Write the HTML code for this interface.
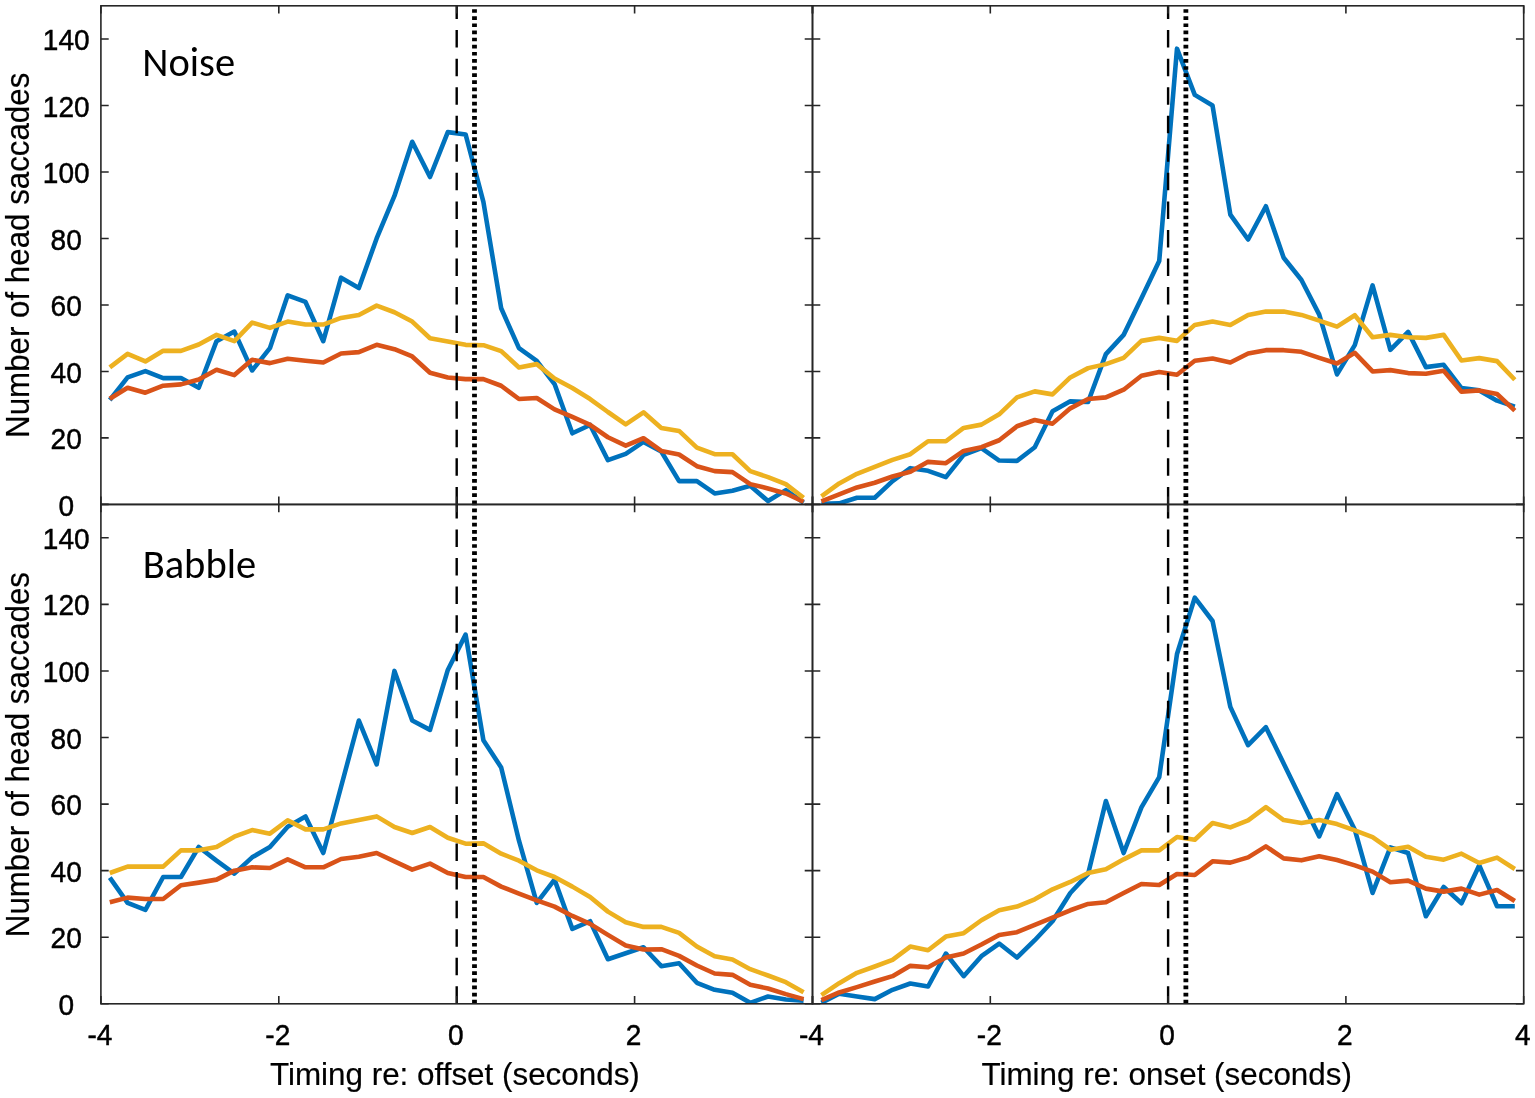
<!DOCTYPE html>
<html><head><meta charset="utf-8"><title>Head saccades timing</title>
<style>
html,body{margin:0;padding:0;background:#fff;}
body{width:1535px;height:1098px;overflow:hidden;}
svg{display:block;}
.t{font-family:"Liberation Sans",Arial,Helvetica,sans-serif;font-size:28.5px;fill:#000;stroke:#000;stroke-width:0.45px;}
.l{font-family:"Liberation Sans",Arial,Helvetica,sans-serif;font-size:31.4px;fill:#000;stroke:#000;stroke-width:0.18px;}
.ti{font-family:Carlito,Calibri,"Liberation Sans",sans-serif;font-size:40.5px;fill:#000;}
</style></head>
<body>
<svg width="1535" height="1098" viewBox="0 0 1535 1098">
<defs><clipPath id="c00"><rect x="100.9" y="5.8" width="711.60" height="498.60"/></clipPath><clipPath id="c01"><rect x="812.5" y="5.8" width="711.20" height="498.60"/></clipPath><clipPath id="c10"><rect x="100.9" y="504.5" width="711.60" height="499.30"/></clipPath><clipPath id="c11"><rect x="812.5" y="504.5" width="711.20" height="499.30"/></clipPath></defs>
<rect width="1535" height="1098" fill="#fff"/>
<g clip-path="url(#c00)">
<polyline points="109.80,400.03 127.59,377.42 145.38,371.11 163.17,378.09 180.96,378.09 198.75,387.73 216.54,341.19 234.33,331.55 252.12,370.44 269.91,348.17 287.70,295.32 305.49,301.97 323.28,341.19 341.07,277.70 358.86,288.01 376.64,238.48 394.44,195.93 412.23,141.75 430.01,176.99 447.81,132.11 465.60,134.44 483.39,201.92 501.18,308.28 518.97,348.17 536.75,360.80 554.54,384.07 572.34,433.27 590.12,424.96 607.92,460.19 625.71,453.88 643.50,441.91 661.29,451.55 679.08,481.13 696.87,481.13 714.65,493.43 732.44,490.77 750.24,485.79 768.02,501.08 785.82,490.11 803.61,502.74" fill="none" stroke="#0072BD" stroke-width="4.6" stroke-linejoin="round" stroke-linecap="butt"/>
<polyline points="109.80,398.70 127.59,387.73 145.38,392.71 163.17,385.73 180.96,384.40 198.75,379.42 216.54,369.78 234.33,375.10 252.12,359.81 269.91,363.13 287.70,358.81 305.49,360.80 323.28,362.47 341.07,353.49 358.86,352.16 376.64,344.85 394.44,349.17 412.23,356.48 430.01,372.77 447.81,377.42 465.60,379.09 483.39,379.09 501.18,385.73 518.97,399.03 536.75,398.03 554.54,409.33 572.34,416.98 590.12,424.96 607.92,437.26 625.71,445.57 643.50,438.25 661.29,450.88 679.08,454.54 696.87,466.17 714.65,471.16 732.44,472.16 750.24,484.12 768.02,488.44 785.82,493.43 803.61,501.74" fill="none" stroke="#D95319" stroke-width="4.6" stroke-linejoin="round" stroke-linecap="butt"/>
<polyline points="109.80,367.45 127.59,353.82 145.38,361.47 163.17,350.83 180.96,350.83 198.75,344.52 216.54,334.88 234.33,341.19 252.12,322.58 269.91,327.90 287.70,321.58 305.49,324.57 323.28,324.57 341.07,317.92 358.86,314.93 376.64,305.62 394.44,312.27 412.23,321.58 430.01,338.20 447.81,341.52 465.60,344.85 483.39,345.18 501.18,351.16 518.97,367.45 536.75,364.13 554.54,378.42 572.34,388.06 590.12,399.03 607.92,411.99 625.71,424.29 643.50,412.33 661.29,427.95 679.08,430.94 696.87,447.56 714.65,454.21 732.44,454.21 750.24,471.16 768.02,477.14 785.82,484.12 803.61,497.75" fill="none" stroke="#EDB120" stroke-width="4.6" stroke-linejoin="round" stroke-linecap="butt"/>
</g>
<g clip-path="url(#c01)">
<polyline points="821.39,503.74 839.17,503.40 856.95,497.75 874.73,497.75 892.51,481.13 910.29,468.17 928.07,470.83 945.85,477.14 963.63,454.87 981.41,448.22 999.19,460.52 1016.97,460.86 1034.75,447.23 1052.53,411.33 1070.31,401.36 1088.09,402.02 1105.87,354.16 1123.65,334.88 1141.43,298.31 1159.21,261.08 1176.99,48.68 1194.77,94.88 1212.55,105.52 1230.33,214.55 1248.11,239.48 1265.89,206.24 1283.67,257.76 1301.45,280.03 1319.23,314.60 1337.01,374.43 1354.79,345.18 1372.57,285.35 1390.35,349.83 1408.13,331.88 1425.91,367.12 1443.69,364.79 1461.47,388.06 1479.25,390.39 1497.03,400.69 1514.81,406.67" fill="none" stroke="#0072BD" stroke-width="4.6" stroke-linejoin="round" stroke-linecap="butt"/>
<polyline points="821.39,501.41 839.17,494.43 856.95,487.45 874.73,482.79 892.51,476.48 910.29,471.82 928.07,461.85 945.85,463.18 963.63,450.88 981.41,447.23 999.19,440.25 1016.97,426.29 1034.75,419.97 1052.53,423.63 1070.31,408.34 1088.09,399.03 1105.87,397.37 1123.65,389.72 1141.43,375.76 1159.21,372.10 1176.99,374.76 1194.77,360.80 1212.55,358.48 1230.33,362.47 1248.11,353.49 1265.89,350.17 1283.67,350.17 1301.45,351.83 1319.23,357.81 1337.01,363.46 1354.79,352.83 1372.57,371.44 1390.35,370.11 1408.13,373.10 1425.91,373.77 1443.69,370.78 1461.47,391.72 1479.25,390.39 1497.03,394.04 1514.81,410.66" fill="none" stroke="#D95319" stroke-width="4.6" stroke-linejoin="round" stroke-linecap="butt"/>
<polyline points="821.39,496.42 839.17,483.46 856.95,473.82 874.73,466.84 892.51,459.86 910.29,454.21 928.07,441.24 945.85,441.24 963.63,427.95 981.41,424.62 999.19,414.32 1016.97,397.37 1034.75,391.38 1052.53,394.38 1070.31,377.42 1088.09,368.12 1105.87,364.13 1123.65,357.81 1141.43,340.86 1159.21,337.87 1176.99,340.86 1194.77,324.90 1212.55,321.58 1230.33,324.90 1248.11,314.93 1265.89,311.61 1283.67,311.61 1301.45,314.93 1319.23,320.58 1337.01,326.57 1354.79,315.26 1372.57,337.20 1390.35,334.88 1408.13,337.20 1425.91,337.87 1443.69,334.88 1461.47,360.47 1479.25,358.14 1497.03,361.14 1514.81,379.75" fill="none" stroke="#EDB120" stroke-width="4.6" stroke-linejoin="round" stroke-linecap="butt"/>
</g>
<g clip-path="url(#c10)">
<polyline points="109.80,877.64 127.59,902.94 145.38,909.93 163.17,876.98 180.96,876.98 198.75,847.02 216.54,860.67 234.33,873.65 252.12,857.34 269.91,847.02 287.70,826.71 305.49,816.40 323.28,853.01 341.07,786.77 358.86,720.53 376.64,764.47 394.44,670.93 412.23,720.53 430.01,729.85 447.81,669.93 465.60,634.65 483.39,740.17 501.18,767.46 518.97,840.70 536.75,902.94 554.54,879.64 572.34,928.90 590.12,921.25 607.92,959.20 625.71,953.20 643.50,947.21 661.29,966.19 679.08,963.19 696.87,982.83 714.65,989.82 732.44,992.82 750.24,1002.80 768.02,996.48 785.82,999.47 803.61,1000.80" fill="none" stroke="#0072BD" stroke-width="4.6" stroke-linejoin="round" stroke-linecap="butt"/>
<polyline points="109.80,902.28 127.59,897.62 145.38,898.95 163.17,898.95 180.96,885.30 198.75,882.64 216.54,879.64 234.33,870.65 252.12,867.32 269.91,867.99 287.70,859.34 305.49,867.32 323.28,867.32 341.07,859.00 358.86,856.67 376.64,853.01 394.44,861.33 412.23,869.65 430.01,863.66 447.81,872.98 465.60,876.98 483.39,876.98 501.18,886.63 518.97,893.62 536.75,900.28 554.54,906.60 572.34,915.92 590.12,923.91 607.92,934.90 625.71,945.55 643.50,949.54 661.29,949.21 679.08,955.87 696.87,965.52 714.65,973.51 732.44,974.84 750.24,984.83 768.02,988.49 785.82,994.15 803.61,999.14" fill="none" stroke="#D95319" stroke-width="4.6" stroke-linejoin="round" stroke-linecap="butt"/>
<polyline points="109.80,872.98 127.59,866.66 145.38,866.66 163.17,866.66 180.96,850.35 198.75,850.35 216.54,847.02 234.33,836.70 252.12,830.04 269.91,833.71 287.70,820.39 305.49,829.38 323.28,829.38 341.07,823.39 358.86,820.06 376.64,816.40 394.44,827.05 412.23,833.04 430.01,827.05 447.81,837.70 465.60,843.69 483.39,843.36 501.18,853.68 518.97,860.67 536.75,870.32 554.54,876.98 572.34,886.63 590.12,896.95 607.92,911.60 625.71,922.25 643.50,926.91 661.29,926.91 679.08,932.90 696.87,946.55 714.65,956.20 732.44,959.53 750.24,969.18 768.02,975.51 785.82,982.16 803.61,992.15" fill="none" stroke="#EDB120" stroke-width="4.6" stroke-linejoin="round" stroke-linecap="butt"/>
</g>
<g clip-path="url(#c11)">
<polyline points="821.39,1002.80 839.17,993.81 856.95,996.48 874.73,999.14 892.51,989.82 910.29,983.50 928.07,986.49 945.85,953.54 963.63,976.17 981.41,956.20 999.19,943.55 1016.97,957.53 1034.75,940.22 1052.53,921.25 1070.31,892.96 1088.09,873.98 1105.87,801.08 1123.65,853.01 1141.43,807.41 1159.21,777.12 1176.99,653.96 1194.77,597.70 1212.55,621.00 1230.33,706.88 1248.11,745.16 1265.89,727.19 1283.67,763.47 1301.45,800.09 1319.23,836.37 1337.01,794.09 1354.79,829.71 1372.57,892.96 1390.35,847.35 1408.13,853.01 1425.91,916.26 1443.69,886.96 1461.47,903.27 1479.25,865.33 1497.03,906.27 1514.81,906.27" fill="none" stroke="#0072BD" stroke-width="4.6" stroke-linejoin="round" stroke-linecap="butt"/>
<polyline points="821.39,1000.14 839.17,992.48 856.95,987.16 874.73,981.50 892.51,976.17 910.29,965.85 928.07,967.18 945.85,957.53 963.63,953.54 981.41,944.55 999.19,934.90 1016.97,932.23 1034.75,924.91 1052.53,917.59 1070.31,910.26 1088.09,903.94 1105.87,902.28 1123.65,892.96 1141.43,883.97 1159.21,884.97 1176.99,873.98 1194.77,874.98 1212.55,861.33 1230.33,862.66 1248.11,857.34 1265.89,846.35 1283.67,858.34 1301.45,860.33 1319.23,856.34 1337.01,860.00 1354.79,865.33 1372.57,871.65 1390.35,882.30 1408.13,880.64 1425.91,888.63 1443.69,891.62 1461.47,888.63 1479.25,894.62 1497.03,889.96 1514.81,900.94" fill="none" stroke="#D95319" stroke-width="4.6" stroke-linejoin="round" stroke-linecap="butt"/>
<polyline points="821.39,995.15 839.17,983.16 856.95,972.84 874.73,966.52 892.51,959.86 910.29,946.55 928.07,950.21 945.85,936.56 963.63,933.23 981.41,920.25 999.19,910.26 1016.97,906.60 1034.75,899.28 1052.53,889.29 1070.31,881.97 1088.09,872.98 1105.87,869.32 1123.65,859.34 1141.43,850.35 1159.21,850.35 1176.99,837.03 1194.77,839.70 1212.55,823.05 1230.33,827.38 1248.11,820.39 1265.89,807.08 1283.67,820.06 1301.45,823.05 1319.23,820.06 1337.01,824.05 1354.79,830.38 1372.57,837.03 1390.35,849.68 1408.13,846.69 1425.91,856.67 1443.69,859.67 1461.47,853.68 1479.25,863.00 1497.03,857.67 1514.81,868.99" fill="none" stroke="#EDB120" stroke-width="4.6" stroke-linejoin="round" stroke-linecap="butt"/>
</g>
<line x1="456.70" y1="504.40" x2="456.70" y2="5.80" stroke="#000" stroke-width="2.4" stroke-dasharray="17.5 11.05"/>
<line x1="474.49" y1="504.15" x2="474.49" y2="5.80" stroke="#000" stroke-width="4.8" stroke-dasharray="3.7 3.42"/>
<line x1="1168.10" y1="504.40" x2="1168.10" y2="5.80" stroke="#000" stroke-width="2.4" stroke-dasharray="17.5 11.05"/>
<line x1="1185.88" y1="504.15" x2="1185.88" y2="5.80" stroke="#000" stroke-width="4.8" stroke-dasharray="3.7 3.42"/>
<line x1="456.70" y1="1003.80" x2="456.70" y2="504.50" stroke="#000" stroke-width="2.4" stroke-dasharray="17.5 11.05"/>
<line x1="474.49" y1="1003.55" x2="474.49" y2="504.50" stroke="#000" stroke-width="4.8" stroke-dasharray="3.7 3.42"/>
<line x1="1168.10" y1="1003.80" x2="1168.10" y2="504.50" stroke="#000" stroke-width="2.4" stroke-dasharray="17.5 11.05"/>
<line x1="1185.88" y1="1003.55" x2="1185.88" y2="504.50" stroke="#000" stroke-width="4.8" stroke-dasharray="3.7 3.42"/>
<rect x="100.9" y="5.8" width="711.60" height="498.60" fill="none" stroke="#262626" stroke-width="1.6"/>
<path d="M100.90,504.40h7.8M812.50,504.40h-7.8M100.90,437.92h7.8M812.50,437.92h-7.8M100.90,371.44h7.8M812.50,371.44h-7.8M100.90,304.96h7.8M812.50,304.96h-7.8M100.90,238.48h7.8M812.50,238.48h-7.8M100.90,172.00h7.8M812.50,172.00h-7.8M100.90,105.52h7.8M812.50,105.52h-7.8M100.90,39.04h7.8M812.50,39.04h-7.8M100.90,504.40v-7.8M100.90,5.80v7.8M278.80,504.40v-7.8M278.80,5.80v7.8M456.70,504.40v-7.8M456.70,5.80v7.8M634.60,504.40v-7.8M634.60,5.80v7.8M812.50,504.40v-7.8M812.50,5.80v7.8" stroke="#262626" stroke-width="1.6" fill="none"/>
<rect x="812.5" y="5.8" width="711.20" height="498.60" fill="none" stroke="#262626" stroke-width="1.6"/>
<path d="M812.50,504.40h7.8M1523.70,504.40h-7.8M812.50,437.92h7.8M1523.70,437.92h-7.8M812.50,371.44h7.8M1523.70,371.44h-7.8M812.50,304.96h7.8M1523.70,304.96h-7.8M812.50,238.48h7.8M1523.70,238.48h-7.8M812.50,172.00h7.8M1523.70,172.00h-7.8M812.50,105.52h7.8M1523.70,105.52h-7.8M812.50,39.04h7.8M1523.70,39.04h-7.8M812.50,504.40v-7.8M812.50,5.80v7.8M990.30,504.40v-7.8M990.30,5.80v7.8M1168.10,504.40v-7.8M1168.10,5.80v7.8M1345.90,504.40v-7.8M1345.90,5.80v7.8M1523.70,504.40v-7.8M1523.70,5.80v7.8" stroke="#262626" stroke-width="1.6" fill="none"/>
<rect x="100.9" y="504.5" width="711.60" height="499.30" fill="none" stroke="#262626" stroke-width="1.6"/>
<path d="M100.90,1003.80h7.8M812.50,1003.80h-7.8M100.90,937.23h7.8M812.50,937.23h-7.8M100.90,870.65h7.8M812.50,870.65h-7.8M100.90,804.08h7.8M812.50,804.08h-7.8M100.90,737.51h7.8M812.50,737.51h-7.8M100.90,670.93h7.8M812.50,670.93h-7.8M100.90,604.36h7.8M812.50,604.36h-7.8M100.90,537.79h7.8M812.50,537.79h-7.8M100.90,1003.80v-7.8M100.90,504.50v7.8M278.80,1003.80v-7.8M278.80,504.50v7.8M456.70,1003.80v-7.8M456.70,504.50v7.8M634.60,1003.80v-7.8M634.60,504.50v7.8M812.50,1003.80v-7.8M812.50,504.50v7.8" stroke="#262626" stroke-width="1.6" fill="none"/>
<rect x="812.5" y="504.5" width="711.20" height="499.30" fill="none" stroke="#262626" stroke-width="1.6"/>
<path d="M812.50,1003.80h7.8M1523.70,1003.80h-7.8M812.50,937.23h7.8M1523.70,937.23h-7.8M812.50,870.65h7.8M1523.70,870.65h-7.8M812.50,804.08h7.8M1523.70,804.08h-7.8M812.50,737.51h7.8M1523.70,737.51h-7.8M812.50,670.93h7.8M1523.70,670.93h-7.8M812.50,604.36h7.8M1523.70,604.36h-7.8M812.50,537.79h7.8M1523.70,537.79h-7.8M812.50,1003.80v-7.8M812.50,504.50v7.8M990.30,1003.80v-7.8M990.30,504.50v7.8M1168.10,1003.80v-7.8M1168.10,504.50v7.8M1345.90,1003.80v-7.8M1345.90,504.50v7.8M1523.70,1003.80v-7.8M1523.70,504.50v7.8" stroke="#262626" stroke-width="1.6" fill="none"/>
<text transform="translate(66.20,515.50) scale(0.985,1.01)" text-anchor="middle" class="t">0</text>
<text transform="translate(66.20,449.02) scale(0.985,1.01)" text-anchor="middle" class="t">20</text>
<text transform="translate(66.20,382.54) scale(0.985,1.01)" text-anchor="middle" class="t">40</text>
<text transform="translate(66.20,316.06) scale(0.985,1.01)" text-anchor="middle" class="t">60</text>
<text transform="translate(66.20,249.58) scale(0.985,1.01)" text-anchor="middle" class="t">80</text>
<text transform="translate(66.20,183.10) scale(0.985,1.01)" text-anchor="middle" class="t">100</text>
<text transform="translate(66.20,116.62) scale(0.985,1.01)" text-anchor="middle" class="t">120</text>
<text transform="translate(66.20,50.14) scale(0.985,1.01)" text-anchor="middle" class="t">140</text>
<text transform="translate(66.20,1014.90) scale(0.985,1.01)" text-anchor="middle" class="t">0</text>
<text transform="translate(66.20,948.33) scale(0.985,1.01)" text-anchor="middle" class="t">20</text>
<text transform="translate(66.20,881.75) scale(0.985,1.01)" text-anchor="middle" class="t">40</text>
<text transform="translate(66.20,815.18) scale(0.985,1.01)" text-anchor="middle" class="t">60</text>
<text transform="translate(66.20,748.61) scale(0.985,1.01)" text-anchor="middle" class="t">80</text>
<text transform="translate(66.20,682.03) scale(0.985,1.01)" text-anchor="middle" class="t">100</text>
<text transform="translate(66.20,615.46) scale(0.985,1.01)" text-anchor="middle" class="t">120</text>
<text transform="translate(66.20,548.89) scale(0.985,1.01)" text-anchor="middle" class="t">140</text>
<text transform="translate(99.90,1044.8) scale(0.985,1.05)" text-anchor="middle" class="t">-4</text>
<text transform="translate(277.80,1044.8) scale(0.985,1.05)" text-anchor="middle" class="t">-2</text>
<text transform="translate(455.70,1044.8) scale(0.985,1.05)" text-anchor="middle" class="t">0</text>
<text transform="translate(633.60,1044.8) scale(0.985,1.05)" text-anchor="middle" class="t">2</text>
<text transform="translate(811.50,1044.8) scale(0.985,1.05)" text-anchor="middle" class="t">-4</text>
<text transform="translate(989.30,1044.8) scale(0.985,1.05)" text-anchor="middle" class="t">-2</text>
<text transform="translate(1167.10,1044.8) scale(0.985,1.05)" text-anchor="middle" class="t">0</text>
<text transform="translate(1344.90,1044.8) scale(0.985,1.05)" text-anchor="middle" class="t">2</text>
<text transform="translate(1522.70,1044.8) scale(0.985,1.05)" text-anchor="middle" class="t">4</text>
<text x="454.90" y="1085" text-anchor="middle" class="l">Timing re: offset (seconds)</text>
<text x="1166.70" y="1085" text-anchor="middle" class="l">Timing re: onset (seconds)</text>
<text transform="translate(28.6,255.3) rotate(-90) scale(0.997,1.05)" text-anchor="middle" class="l">Number of head saccades</text>
<text transform="translate(28.6,754.6) rotate(-90) scale(0.997,1.05)" text-anchor="middle" class="l">Number of head saccades</text>
<text x="142.3" y="75.6" class="ti" textLength="92.79" lengthAdjust="spacingAndGlyphs">Noise</text>
<text x="142.7" y="577.9" class="ti" textLength="113.43" lengthAdjust="spacingAndGlyphs">Babble</text>
</svg>
</body></html>
